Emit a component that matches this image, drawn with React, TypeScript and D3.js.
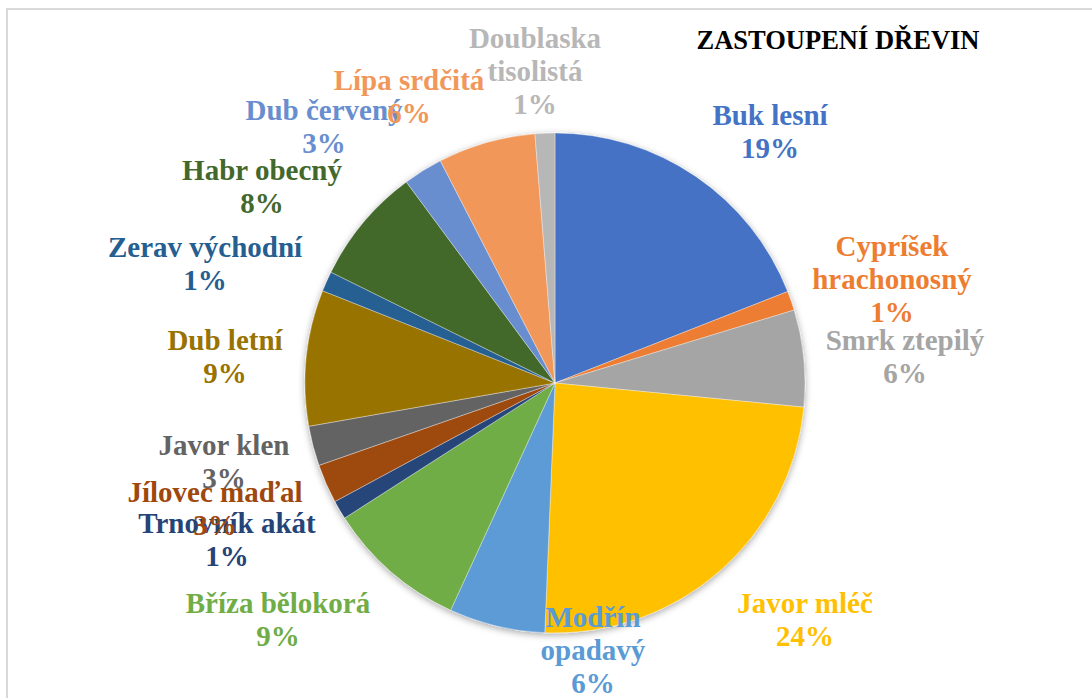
import React from "react";
import * as d3 from "d3";

// ---- data ----
const categories = [
  "Buk lesní",
  "Cypríšek hrachonosný",
  "Smrk ztepilý",
  "Javor mléč",
  "Modřín opadavý",
  "Bříza bělokorá",
  "Trnovník akát",
  "Jílovec maďal",
  "Javor klen",
  "Dub letní",
  "Zerav východní",
  "Habr obecný",
  "Dub červený",
  "Lípa srdčitá",
  "Doublaska tisolistá",
];
const shares = [19.03, 1.25, 6.25, 24.1, 6.2, 9.06, 1.22, 2.52, 2.57, 8.78, 1.3, 7.55, 2.55, 6.3, 1.28];
const colors = [
  "#4472C4", "#ED7D31", "#A5A5A5", "#FFC000", "#5B9BD5",
  "#70AD47", "#264478", "#9E480E", "#636363", "#997300",
  "#255E91", "#43682B", "#698ED0", "#F1975A", "#B7B7B7",
];
const title = "ZASTOUPENÍ DŘEVIN";

// ---- layout (label anchors: centre x, first line centre y) ----
const labelAnchors: [number, number][] = [
  [770, 115], [892, 246], [905, 340], [805, 603], [593, 617],
  [278, 603], [227, 523], [215, 492], [224, 445], [225, 340],
  [205, 247], [262, 170], [324, 110], [409, 80], [535, 38],
];
const wrapped = new Set(["Cypríšek hrachonosný", "Modřín opadavý", "Doublaska tisolistá"]);

const W = 1092;
const H = 698;
const CX = 555;
const CY = 383;
const R = 250;
const FONT = '"Liberation Serif"';
const LABEL_SIZE = 29;
const LINE = 33;

export default function App() {
  const data = categories.map((c, i) => ({ name: c, value: shares[i], color: colors[i] }));
  const total = d3.sum(shares);
  const pie = d3.pie<any>().value((d) => d.value).sort(null).startAngle(0).endAngle(2 * Math.PI);
  const arcs = pie(data);
  const arc = d3.arc<any>().innerRadius(0).outerRadius(R);
  const fmt = (v: number) => `${Math.round((v / total) * 100)}%`;

  return (
    <svg width={W} height={H} style={{ position: "absolute", left: 0, top: 0, display: "block" }}>
      <defs>
        <filter id="shadow" x="-10%" y="-10%" width="120%" height="120%">
          <feDropShadow dx={0} dy={2} stdDeviation={3.5} floodColor="#000" floodOpacity={0.35} />
        </filter>
      </defs>
      <rect width={W} height={H} fill="#fff" />
      <rect x={7} y={9} width={W + 20} height={H + 20} fill="none" stroke="#d9d9d9" strokeWidth={2} />
      <g transform={`translate(${CX},${CY})`}>
        <g filter="url(#shadow)">
          {arcs.map((a: any, i: number) => (
            <path key={i} d={arc(a) as string} fill={a.data.color} stroke="#ffffff" strokeOpacity={0.6} strokeWidth={0.6} />
          ))}
        </g>
      </g>
      <g style={{ fontFamily: FONT, fontWeight: "bold", fontSize: `${LABEL_SIZE}px` }} textAnchor="middle">
        {data.map((d, i) => {
          const [x, y] = labelAnchors[i];
          const lines = wrapped.has(d.name) ? d.name.split(" ") : [d.name];
          lines.push(fmt(d.value));
          return (
            <text key={d.name} fill={d.color}>
              {lines.map((ln, k) => (
                <tspan key={k} x={x} y={y + k * LINE + LABEL_SIZE * 0.34}>
                  {ln}
                </tspan>
              ))}
            </text>
          );
        })}
      </g>
      <text
        x={838}
        y={49}
        textAnchor="middle"
        fill="#000"
        style={{ fontFamily: FONT, fontWeight: "bold", fontSize: "26.5px" }}
      >
        {title}
      </text>
    </svg>
  );
}
